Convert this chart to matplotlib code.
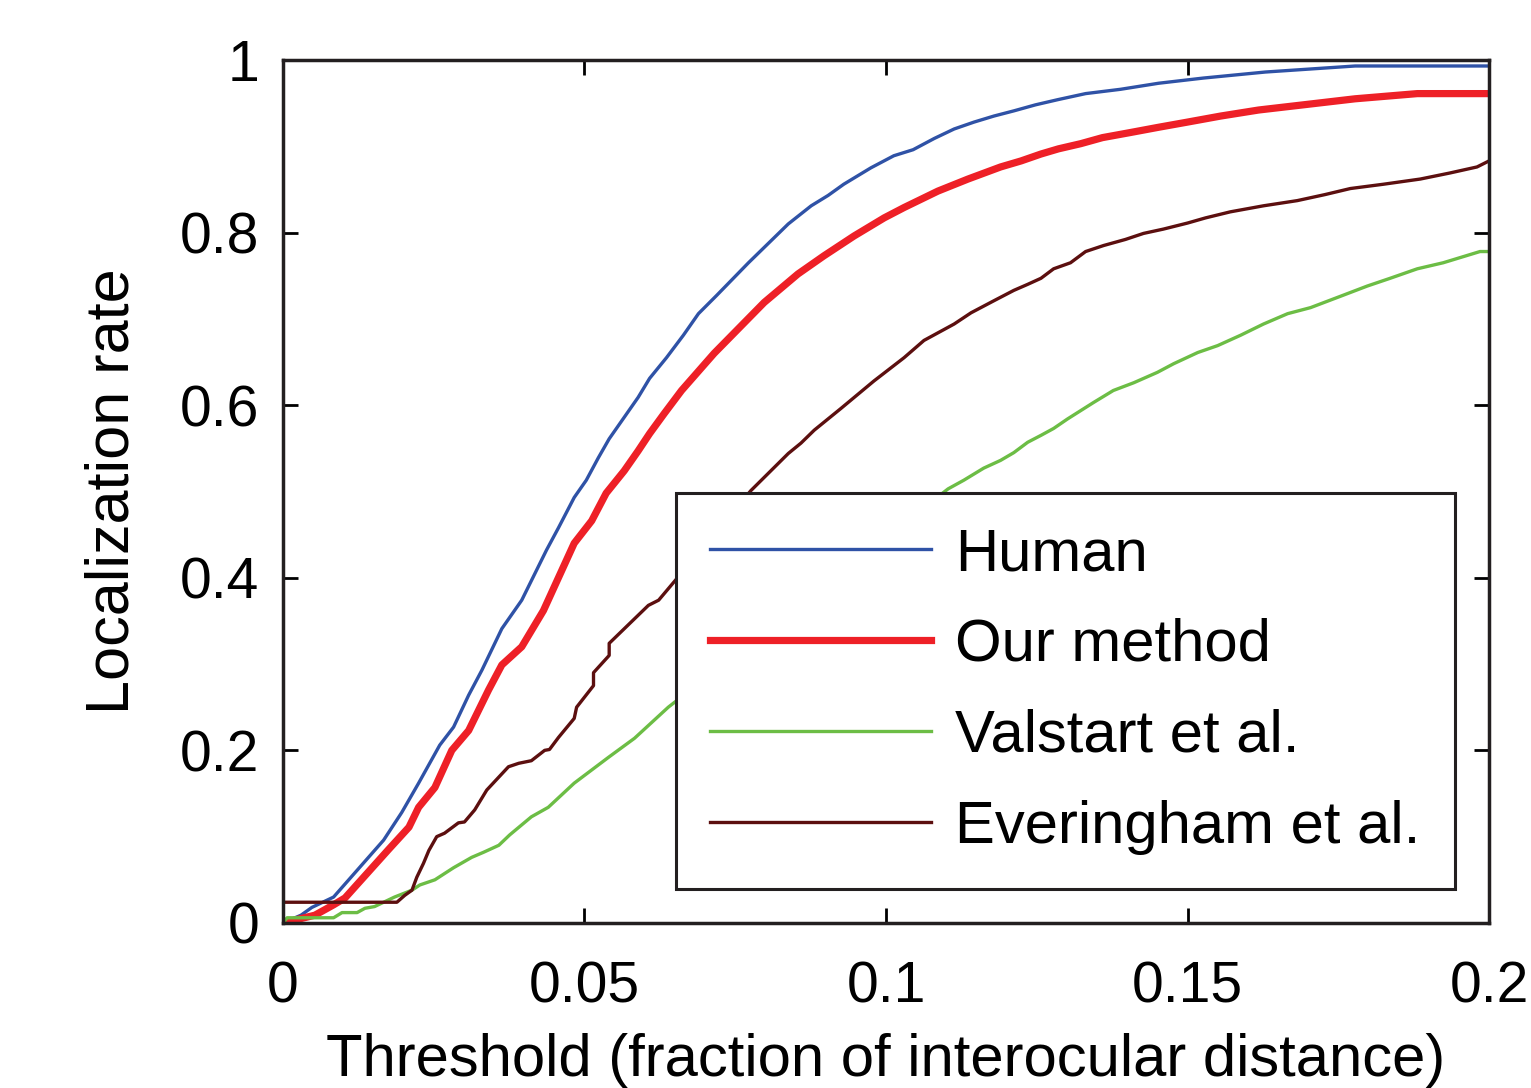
#!/usr/bin/env python3
"""Localization rate vs. threshold curves (four methods)."""

import matplotlib
matplotlib.use("Agg")
import matplotlib.pyplot as plt

# Human
human_x = [0.0, 0.003, 0.0048, 0.0084, 0.0167, 0.0197, 0.0225, 0.026, 0.0283, 0.0308,
           0.033, 0.0363, 0.0396, 0.0437, 0.0457, 0.0483, 0.0503, 0.0523, 0.0541, 0.057,
           0.0589, 0.0608, 0.0636, 0.0664, 0.0689, 0.0719, 0.0772, 0.0838, 0.0876, 0.0904,
           0.093, 0.0975, 0.1013, 0.1045, 0.108, 0.1113, 0.1146, 0.1179, 0.1212, 0.1248,
           0.1285, 0.1331, 0.1389, 0.1452, 0.1526, 0.1629, 0.1778, 0.2]
human_y = [0.0, 0.009, 0.018, 0.030, 0.096, 0.128, 0.162, 0.206, 0.227, 0.264,
           0.293, 0.341, 0.374, 0.432, 0.458, 0.493, 0.513, 0.539, 0.561, 0.590,
           0.609, 0.631, 0.655, 0.681, 0.706, 0.727, 0.765, 0.810, 0.831, 0.843,
           0.856, 0.875, 0.889, 0.896, 0.909, 0.920, 0.928, 0.935, 0.941, 0.948,
           0.954, 0.961, 0.966, 0.973, 0.979, 0.986, 0.993, 0.993]

# Our method
ours_x = [0.0, 0.0053, 0.0084, 0.0103, 0.0175, 0.0209, 0.0225, 0.0252, 0.028, 0.0308,
          0.0341, 0.0363, 0.0396, 0.0432, 0.0483, 0.0512, 0.0536, 0.0566, 0.0589, 0.0608,
          0.0632, 0.0661, 0.0715, 0.0798, 0.0854, 0.0897, 0.0947, 0.0997, 0.103, 0.1086,
          0.1136, 0.119, 0.1224, 0.1257, 0.1286, 0.1323, 0.1359, 0.1406, 0.1452, 0.15,
          0.1555, 0.1618, 0.1692, 0.1778, 0.1881, 0.2]
ours_y = [0.0, 0.009, 0.021, 0.029, 0.085, 0.111, 0.134, 0.157, 0.200, 0.223,
          0.270, 0.299, 0.320, 0.362, 0.440, 0.466, 0.498, 0.524, 0.547, 0.567,
          0.590, 0.617, 0.660, 0.719, 0.752, 0.773, 0.796, 0.817, 0.829, 0.848,
          0.862, 0.876, 0.883, 0.891, 0.897, 0.903, 0.910, 0.916, 0.922, 0.928,
          0.935, 0.942, 0.948, 0.955, 0.961, 0.961]

# Valstart et al.
valstart_x = [0.0, 0.0007, 0.0084, 0.0098, 0.0123, 0.0136, 0.0152, 0.0185, 0.0214, 0.0227,
              0.0252, 0.0283, 0.0313, 0.0333, 0.0358, 0.0376, 0.0412, 0.044, 0.0483, 0.054,
              0.0583, 0.0639, 0.1103, 0.1129, 0.1162, 0.119, 0.1212, 0.1235, 0.1257, 0.1278,
              0.1301, 0.1344, 0.1377, 0.1411, 0.145, 0.1477, 0.1517, 0.155, 0.1588, 0.1626,
              0.1666, 0.1704, 0.1753, 0.1798, 0.1836, 0.1881, 0.1924, 0.1985, 0.2]
valstart_y = [0.0, 0.006, 0.006, 0.012, 0.012, 0.017, 0.019, 0.030, 0.038, 0.044,
              0.050, 0.064, 0.076, 0.082, 0.090, 0.102, 0.123, 0.134, 0.162, 0.192,
              0.214, 0.250, 0.503, 0.513, 0.527, 0.536, 0.545, 0.557, 0.565, 0.573,
              0.584, 0.603, 0.617, 0.626, 0.638, 0.648, 0.661, 0.669, 0.681, 0.694,
              0.706, 0.713, 0.726, 0.738, 0.747, 0.758, 0.765, 0.778, 0.778]

# Everingham et al.
everingham_x = [0.0, 0.0, 0.0189, 0.0202, 0.0214, 0.0222, 0.0233, 0.0242, 0.0255, 0.0268,
                0.0291, 0.0301, 0.0318, 0.0338, 0.0374, 0.0391, 0.0412, 0.0434, 0.0442, 0.0457,
                0.0483, 0.0487, 0.0515, 0.0515, 0.0541, 0.0541, 0.0606, 0.0623, 0.0776, 0.0838,
                0.0859, 0.0881, 0.0925, 0.098, 0.103, 0.1063, 0.1113, 0.1141, 0.1179, 0.1212,
                0.1235, 0.1257, 0.1278, 0.1306, 0.1331, 0.1361, 0.1397, 0.1427, 0.146, 0.15,
                0.153, 0.1571, 0.1626, 0.1682, 0.1728, 0.177, 0.1825, 0.1886, 0.1935, 0.198,
                0.2]
everingham_y = [0.0, 0.024, 0.024, 0.032, 0.038, 0.053, 0.069, 0.084, 0.100, 0.104,
                0.116, 0.117, 0.131, 0.154, 0.181, 0.185, 0.188, 0.200, 0.201, 0.215,
                0.237, 0.250, 0.275, 0.290, 0.310, 0.324, 0.368, 0.374, 0.501, 0.544,
                0.556, 0.571, 0.596, 0.628, 0.655, 0.675, 0.694, 0.707, 0.721, 0.733,
                0.740, 0.747, 0.758, 0.765, 0.778, 0.785, 0.792, 0.799, 0.804, 0.811,
                0.817, 0.824, 0.831, 0.837, 0.844, 0.851, 0.856, 0.862, 0.869, 0.876,
                0.883]

x_ticks = [0, 0.05, 0.1, 0.15, 0.2]
x_tick_labels = ["0", "0.05", "0.1", "0.15", "0.2"]
y_ticks = [0, 0.2, 0.4, 0.6, 0.8, 1.0]
y_tick_labels = ["0", "0.2", "0.4", "0.6", "0.8", "1"]

plt.rcParams["font.family"] = ["Liberation Sans", "DejaVu Sans"]

fig = plt.figure(figsize=(15.31, 10.88), dpi=100)
ax = fig.add_axes([0.1848, 0.1517, 0.7878, 0.7932])

ax.plot(human_x, human_y, color="#2f52a6", lw=2.4, label="Human")
ax.plot(ours_x, ours_y, color="#ee2027", lw=5.2, label="Our method")
ax.plot(valstart_x, valstart_y, color="#6cbd45", lw=2.4, label="Valstart et al.")
ax.plot(everingham_x, everingham_y, color="#5c0f0f", lw=2.4, label="Everingham et al.")

ax.set_xlim(0, 0.2)
ax.set_ylim(0, 1)
ax.set_xticks(x_ticks)
ax.set_xticklabels(x_tick_labels)
ax.set_yticks(y_ticks)
ax.set_yticklabels(y_tick_labels)
ax.tick_params(direction="in", length=11, width=2, top=True, right=True, labelsize=41)
ax.tick_params(axis="x", pad=27)
ax.tick_params(axis="y", pad=17)
for spine in ax.spines.values():
    spine.set_linewidth(2.5)
    spine.set_color("#231f20")

ax.set_xlabel("Threshold (fraction of interocular distance)", fontsize=43, labelpad=13)
ax.set_ylabel("Localization rate", fontsize=44, labelpad=28)

leg = ax.legend(loc="lower right", bbox_to_anchor=(0.972, 0.039), borderaxespad=0,
                fontsize=43, handlelength=3.7, handletextpad=0.4, labelspacing=0.6,
                borderpad=0.58, fancybox=False, framealpha=1, edgecolor="#231f20")
leg.get_frame().set_linewidth(2.2)
leg.set_zorder(5)

fig.savefig("out.png", dpi=100)
